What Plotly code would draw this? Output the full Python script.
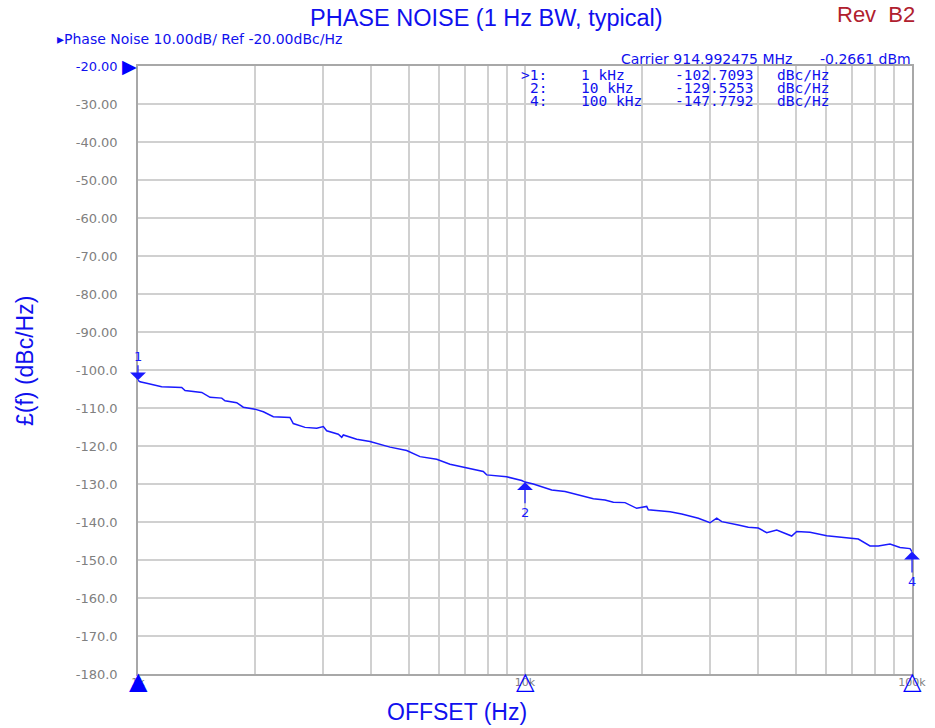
import math
import plotly.graph_objects as go

# ---------------- data ----------------
offset_hz = [1000, 1012, 1053, 1151, 1297, 1323, 1461, 1535, 1646, 1678, 1799, 1871,
             2006, 2108, 2237, 2470, 2519, 2701, 2896, 3012, 3073, 3293, 3361, 3393,
             3674, 3976, 4479, 4946, 5354, 5913, 6400, 6792, 6927, 7802, 7962, 8968,
             9806, 10000, 10505, 11722, 12690, 13874, 14435, 15015, 16095, 16916,
             18131, 19436, 20630, 20826, 23704, 25410, 28047, 30061, 31289, 32242,
             35583, 37757, 40067, 42121, 44718, 48880, 50366, 54514, 60214, 66467,
             72661, 77894, 81840, 87742, 93111, 98810, 100000]
phase_noise = [-102.7, -103.1, -103.5, -104.4, -104.6, -105.4, -105.9, -107.2, -107.4,
               -108.1, -108.6, -109.8, -110.3, -111.0, -112.3, -112.5, -114.1, -115.1,
               -115.3, -114.9, -116.0, -116.9, -117.7, -117.1, -118.2, -118.8, -120.3,
               -121.2, -122.8, -123.5, -124.8, -125.4, -125.7, -126.7, -127.6, -128.1,
               -129.1, -129.5, -130.0, -131.6, -132.0, -132.9, -133.3, -133.9, -134.2,
               -134.8, -134.9, -136.4, -135.9, -136.8, -137.3, -137.9, -139.0, -140.2,
               -139.0, -139.9, -140.8, -141.4, -141.6, -142.8, -142.1, -143.7, -142.5,
               -142.7, -143.6, -144.1, -144.5, -146.3, -146.3, -145.8, -146.7, -147.0,
               -147.8]

marker_ids = ["1", "2", "4"]
marker_freqs = [1000, 10000, 100000]
marker_freq_labels = ["1 kHz", "10 kHz", "100 kHz"]
marker_values = [-102.7093, -129.5253, -147.7792]
active_marker = "1"

y_range = [-180, -20]
y_tick_vals = [-20, -30, -40, -50, -60, -70, -80, -90, -100, -110, -120, -130,
               -140, -150, -160, -170, -180]
y_tick_text = ['<span style="color:#1010ee">-20.00</span>', "-30.00", "-40.00", "-50.00",
               "-60.00", "-70.00", "-80.00", "-90.00", "-100.0", "-110.0", "-120.0",
               "-130.0", "-140.0", "-150.0", "-160.0", "-170.0", "-180.0"]
x_grid_vals = [1000, 2000, 3000, 4000, 5000, 6000, 7000, 8000, 9000,
               10000, 20000, 30000, 40000, 50000, 60000, 70000, 80000, 90000, 100000]
x_grid_text = ["1k", "", "", "", "", "", "", "", "",
               "10k", "", "", "", "", "", "", "", "", "100k"]

carrier_text = "Carrier 914.992475 MHz"
carrier_power = "-0.2661 dBm"
header_text = "▸Phase Noise 10.00dB/ Ref -20.00dBc/Hz"

# ---------------- figure ----------------
W, H = 935, 728
PL, PR, PT, PB = 138, 912, 66, 674   # plot area in page pixels
ML, MR, MT, MB = PL, W - PR, PT, H - PB
PW, PH = PR - PL, PB - PT


def px(xp):
    return (xp - PL) / PW


def py(yp):
    return (PB - yp) / PH


BLUE = "#1a1aff"
TXT_BLUE = "#1010ee"
GRAY = "#808080"

fig = go.Figure()
fig.add_trace(go.Scatter(x=offset_hz, y=phase_noise, mode="lines",
                         line=dict(color=BLUE, width=1.5), hoverinfo="skip",
                         showlegend=False))

ann = []


def txt(text, xp, yp, size, color, family="DejaVu Sans", xanchor="center", angle=0):
    ann.append(dict(text=text, xref="paper", yref="paper", x=px(xp), y=py(yp),
                    xanchor=xanchor, yanchor="middle", showarrow=False, textangle=angle,
                    font=dict(family=family, size=size, color=color)))


ARIAL = "Liberation Sans, Arial"
txt("PHASE NOISE (1 Hz BW, typical)", 486, 18, 23.5, TXT_BLUE, ARIAL)
txt("Rev  B2", 876, 14, 22, "#b0202e", ARIAL)
txt("£(f) (dBc/Hz)", 25, 361, 23, TXT_BLUE, ARIAL, angle=-90)
txt("OFFSET (Hz)", 457, 712, 23, TXT_BLUE, ARIAL)
txt(header_text, 55, 39, 14, TXT_BLUE, xanchor="left")
txt(carrier_text, 619, 59, 14, TXT_BLUE, xanchor="left")
txt(carrier_power, 913, 59, 14, TXT_BLUE, xanchor="right")

# marker table
MONO = "DejaVu Sans Mono"
row_y = [75, 88, 101]
for i, mid in enumerate(marker_ids):
    lab = (">" if mid == active_marker else "") + mid + ":"
    txt(lab, 549, row_y[i], 14.5, TXT_BLUE, MONO, xanchor="right")
    txt(marker_freq_labels[i], 579, row_y[i], 14.5, TXT_BLUE, MONO, xanchor="left")
    txt("%.4f" % marker_values[i], 673, row_y[i], 14.5, TXT_BLUE, MONO, xanchor="left")
    txt("dBc/Hz", 775, row_y[i], 14.5, TXT_BLUE, MONO, xanchor="left")

# marker pins on trace + stimulus triangles under the x axis
for i, mid in enumerate(marker_ids):
    up = (mid == active_marker)
    ann.append(dict(text=mid, x=math.log10(marker_freqs[i]), y=marker_values[i],
                    xref="x", yref="y", showarrow=True, ax=0, ay=-24 if up else 30,
                    arrowhead=1, arrowsize=2.2, arrowwidth=1.2, arrowcolor=BLUE,
                    standoff=0, font=dict(family="DejaVu Sans", size=13, color=BLUE)))
    ann.append(dict(text="▲" if up else "△", x=math.log10(marker_freqs[i]), y=0,
                    xref="x", yref="paper", xanchor="center", yanchor="middle",
                    yshift=-7, showarrow=False,
                    font=dict(family="DejaVu Sans", size=24, color="#0000ff")))

# reference level triangle
ann.append(dict(text="▶", xref="paper", yref="y", x=0, y=y_tick_vals[0], xanchor="right",
                yanchor="middle", xshift=1, showarrow=False,
                font=dict(family="DejaVu Sans", size=19, color="#0000ff")))

fig.update_layout(
    width=W, height=H,
    margin=dict(l=ML, r=MR, t=MT, b=MB, autoexpand=False),
    paper_bgcolor="white", plot_bgcolor="white",
    annotations=ann,
    xaxis=dict(type="log", range=[3, 5], tickvals=x_grid_vals, ticktext=x_grid_text,
               showgrid=True, gridcolor="#d0d0d0", gridwidth=1.5,
               showline=True, linecolor="#a8a8a8", linewidth=1.5, mirror=True,
               ticks="", ticklabelstandoff=-3,
               tickfont=dict(family="DejaVu Sans", size=11, color=GRAY),
               zeroline=False, fixedrange=True),
    yaxis=dict(range=y_range, tickvals=y_tick_vals, ticktext=y_tick_text,
               showgrid=True, gridcolor="#d0d0d0", gridwidth=1.5,
               showline=True, linecolor="#a8a8a8", linewidth=1.5, mirror=True,
               ticks="", ticklabelstandoff=16,
               tickfont=dict(family="DejaVu Sans", size=13, color=GRAY),
               zeroline=False, fixedrange=True),
)

fig.write_html("out.html", config={"displayModeBar": False},
               post_script="document.body.style.margin='0px';"
                           "document.body.style.overflow='hidden';")
